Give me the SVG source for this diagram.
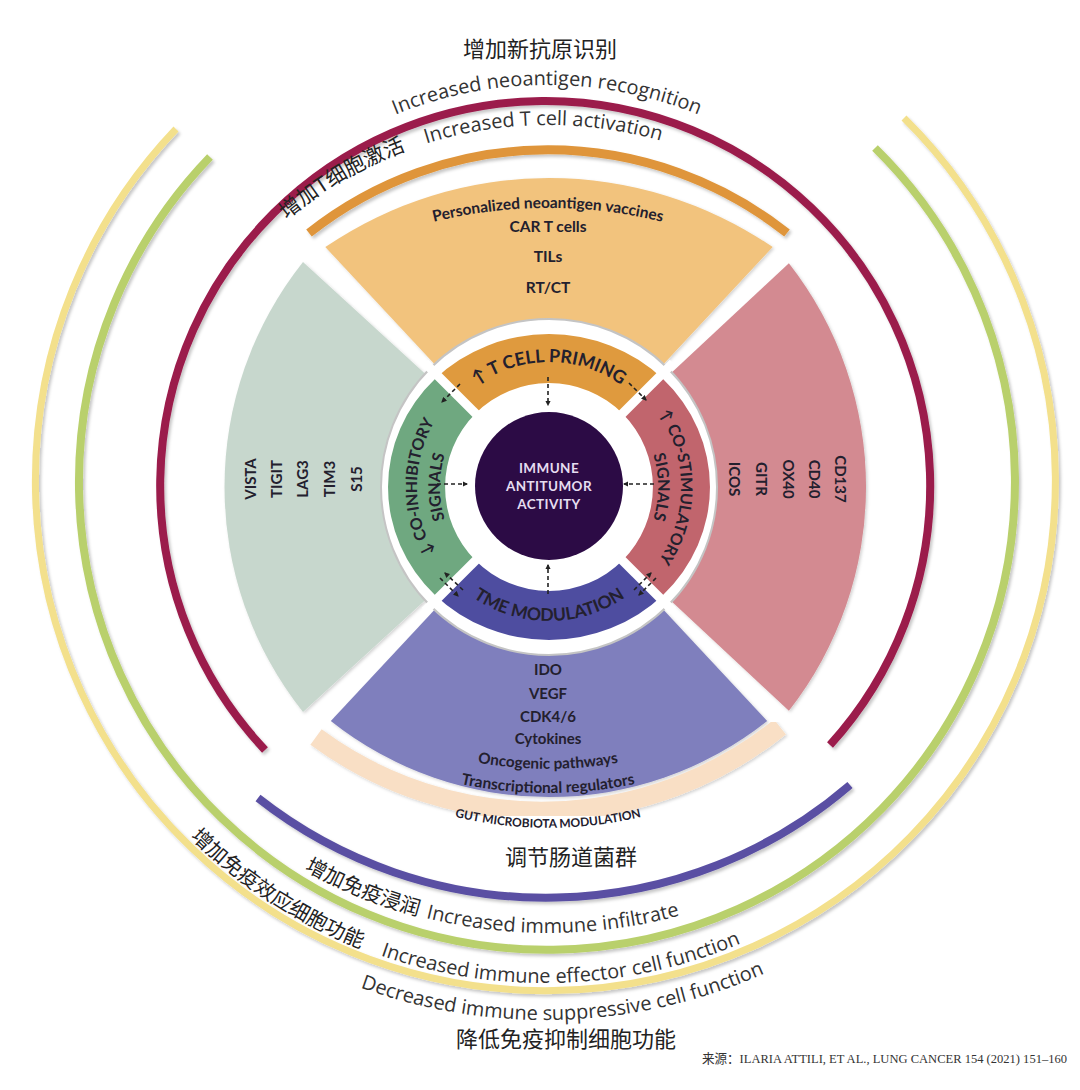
<svg xmlns="http://www.w3.org/2000/svg" width="1080" height="1090" viewBox="0 0 1080 1090">
<defs>
<style>
.lbl{font-family:Lato,"Open Sans","DejaVu Sans",sans-serif;font-weight:700;fill:#23202e}
.out{font-family:"Open Sans","DejaVu Sans",sans-serif;font-size:19.9px;fill:#333}
.cn{font-family:"Noto Sans CJK SC","Noto Sans",sans-serif;fill:#222;font-weight:400}
.arc{fill:none;stroke-linecap:butt}
.dash{fill:none;stroke:#222;stroke-width:1.6;stroke-dasharray:4 3}
.gap{stroke:#fff;stroke-width:9;stroke-linecap:butt}
</style>
<filter id="sh" x="-5%" y="-5%" width="110%" height="110%"><feDropShadow dx="2" dy="2.5" stdDeviation="1.5" flood-color="#000" flood-opacity="0.22"/></filter>
<filter id="sh2" x="-5%" y="-5%" width="110%" height="110%"><feDropShadow dx="1.5" dy="1.5" stdDeviation="1.5" flood-color="#000" flood-opacity="0.18"/></filter>
<marker id="ah" viewBox="0 0 10 10" refX="8" refY="5" markerWidth="5.5" markerHeight="5.5" orient="auto" markerUnits="userSpaceOnUse"><path d="M0,0 L10,5 L0,10 z" fill="#222"/></marker>
<path id="tp-neo" d="M144,488 A403,403 0 0 1 950,488"/>
<path id="tp-tcell" d="M140,533 A408,408 0 0 1 956,533"/>
<path id="tp-infil" d="M45,430 A503,503 0 0 0 1051,430"/>
<path id="tp-eff" d="M40,478 A505,505 0 0 0 1050,478"/>
<path id="tp-decr" d="M5,480 A540,540 0 0 0 1085,480"/>
<path id="tp-pers" d="M68,688 A480,480 0 0 1 1028,688"/>
<path id="tp-onco" d="M148,369 A400,400 0 0 0 948,369"/>
<path id="tp-trans" d="M124,369 A424,424 0 0 0 972,369"/>
<path id="tp-gut" d="M148,428 A400,400 0 0 0 948,428"/>
<path id="tp-tcp" d="M424,487 A125,125 0 0 1 674,487"/>
<path id="tp-tme" d="M415,487 A134,134 0 0 0 683,487"/>
<path id="tp-coi1" d="M549,619 A132,132 0 0 1 549,355"/>
<path id="tp-coi2" d="M549,596 A109,109 0 0 1 549,378"/>
<path id="tp-cos1" d="M549,355 A132,132 0 0 1 549,619"/>
<path id="tp-cos2" d="M549,378 A109,109 0 0 1 549,596"/>
</defs>
<rect width="1080" height="1090" fill="#fff"/>

<!-- outer arcs -->
<g id="outer-arcs" filter="url(#sh)">
<path class="arc" d="M904,118 A510,510 0 1 1 176,129" stroke="#f3e08c" stroke-width="7"/>
<path class="arc" d="M875,148 A468,468 0 1 1 210,157" stroke="#b9d06c" stroke-width="8"/>
<path class="arc" d="M265,750 A385,385 0 1 1 830,745" stroke="#9b1b4c" stroke-width="8"/>
<path class="arc" d="M309,233 A385,385 0 0 1 787,233" stroke="#df953a" stroke-width="9"/>
<path class="arc" d="M258,798 A466,466 0 0 0 850,785" stroke="#5a50a3" stroke-width="8"/>
</g>

<!-- big sectors -->
<g id="sector-top" filter="url(#sh2)"><path d="M549,487 L325.3,247.1 A397,397 0 0 1 772.7,247.1 Z" fill="#f2c37d"/></g>
<g id="sector-left" filter="url(#sh2)"><path d="M549,487 L303,712.1 A362,362 0 0 1 303,261.9 Z" fill="#c7d7cd"/></g>
<g id="sector-right" filter="url(#sh2)"><path d="M549,487 L788.9,263.3 A363,363 0 0 1 788.9,710.7 Z" fill="#d38a91"/></g>
<g id="sector-bottom" filter="url(#sh2)"><path d="M549,487 L767.2,721 A351,351 0 0 1 330.8,721 Z" fill="#7f7fbd"/></g>

<circle cx="549" cy="487" r="168" fill="#fff" stroke="#c4c4c4" stroke-width="2"/>

<!-- inner ring bands -->
<g id="band-tcell"><path d="M435.2,378.8 A161,153 0 0 1 662.8,378.8 L622.5,413.5 A104,104 0 0 0 475.5,413.5 Z" fill="#df9a3e"/></g>
<g id="band-costim"><path d="M662.8,378.8 A161,153 0 0 1 662.8,595.2 L622.5,560.5 A104,104 0 0 0 622.5,413.5 Z" fill="#c1656d"/></g>
<g id="band-tme"><path d="M662.8,595.2 A161,153 0 0 1 435.2,595.2 L475.5,560.5 A104,104 0 0 0 622.5,560.5 Z" fill="#4e4da0"/></g>
<g id="band-coinh"><path d="M435.2,595.2 A161,153 0 0 1 435.2,378.8 L475.5,413.5 A104,104 0 0 0 475.5,560.5 Z" fill="#6fa880"/></g>

<!-- gaps -->
<g id="gaps">
<line class="gap" x1="481.8" y1="419.8" x2="425" y2="363"/>
<line class="gap" x1="616.2" y1="419.8" x2="673" y2="363"/>
<line class="gap" x1="481.8" y1="554.2" x2="425" y2="611"/>
<line class="gap" x1="616.2" y1="554.2" x2="673" y2="611"/>
</g>

<!-- gut microbiota band -->
<g id="gut-band">
<path class="arc" d="M316,737 A380,380 0 0 0 780,727" stroke="#f9dfc5" stroke-width="19" filter="url(#sh2)"/>
<text class="lbl" font-size="12"><textPath href="#tp-gut" startOffset="50%" text-anchor="middle">GUT MICROBIOTA MODULATION</textPath></text>
</g>

<!-- center -->
<g id="center-node">
<circle cx="549" cy="486" r="74" fill="#2c0b45"/>
<text class="lbl" font-size="13.5" style="fill:#e6ddf0" text-anchor="middle" letter-spacing="0.4"><tspan x="549" y="473">IMMUNE</tspan><tspan x="549" y="491">ANTITUMOR</tspan><tspan x="549" y="509">ACTIVITY</tspan></text>
</g>

<!-- band labels -->
<text class="lbl" font-size="18"><textPath href="#tp-tcp" startOffset="50%" text-anchor="middle">↑ T CELL PRIMING</textPath></text>
<text class="lbl" font-size="17.5"><textPath href="#tp-tme" startOffset="50%" text-anchor="middle">TME MODULATION</textPath></text>
<text class="lbl" font-size="16"><textPath href="#tp-coi1" startOffset="50%" text-anchor="middle">↓ CO-INHIBITORY</textPath></text>
<text class="lbl" font-size="16"><textPath href="#tp-coi2" startOffset="50%" text-anchor="middle">SIGNALS</textPath></text>
<text class="lbl" font-size="16"><textPath href="#tp-cos1" startOffset="50%" text-anchor="middle">↑ CO-STIMULATORY</textPath></text>
<text class="lbl" font-size="16"><textPath href="#tp-cos2" startOffset="50%" text-anchor="middle">SIGNALS</textPath></text>

<!-- sector labels -->
<g id="top-items" class="lbl" text-anchor="middle">
<text font-size="15.5"><textPath href="#tp-pers" startOffset="50%" text-anchor="middle">Personalized neoantigen vaccines</textPath></text>
<text x="548" y="232" font-size="15.5">CAR T cells</text>
<text x="548" y="262" font-size="15.5">TILs</text>
<text x="548" y="293" font-size="15.5">RT/CT</text>
</g>
<g id="left-items" class="lbl" font-size="15" text-anchor="middle">
<text transform="translate(251,479) rotate(-90)" y="5">VISTA</text>
<text transform="translate(277,479) rotate(-90)" y="5">TIGIT</text>
<text transform="translate(303,479) rotate(-90)" y="5">LAG3</text>
<text transform="translate(330,479) rotate(-90)" y="5">TIM3</text>
<text transform="translate(357,479) rotate(-90)" y="5">S15</text>
</g>
<g id="right-items" class="lbl" font-size="15" text-anchor="middle">
<text transform="translate(840,479) rotate(90)" y="5">CD137</text>
<text transform="translate(814,479) rotate(90)" y="5">CD40</text>
<text transform="translate(788,479) rotate(90)" y="5">OX40</text>
<text transform="translate(761,479) rotate(90)" y="5">GITR</text>
<text transform="translate(734,479) rotate(90)" y="5">ICOS</text>
</g>
<g id="bottom-items" class="lbl" font-size="15" text-anchor="middle">
<text x="548" y="675">IDO</text>
<text x="548" y="699">VEGF</text>
<text x="548" y="722">CDK4/6</text>
<text x="548" y="744">Cytokines</text>
<text font-size="15.3"><textPath href="#tp-onco" startOffset="50%" text-anchor="middle">Oncogenic pathways</textPath></text>
<text font-size="15.5"><textPath href="#tp-trans" startOffset="50%" text-anchor="middle">Transcriptional regulators</textPath></text>
</g>

<!-- connectors -->
<g id="connectors">
<line class="dash" x1="548" y1="377" x2="548" y2="405" marker-end="url(#ah)"/>
<line class="dash" x1="437" y1="484" x2="467" y2="484" marker-end="url(#ah)"/>
<line class="dash" x1="654" y1="484" x2="624" y2="484" marker-end="url(#ah)"/>
<line class="dash" x1="548" y1="594" x2="548" y2="565" marker-end="url(#ah)"/>
<line class="dash" x1="460" y1="384" x2="442" y2="402" marker-end="url(#ah)"/>
<line class="dash" x1="629" y1="383" x2="646" y2="400" marker-end="url(#ah)"/>
<line class="dash" x1="463" y1="590" x2="445" y2="573" marker-end="url(#ah)"/>
<line class="dash" x1="440" y1="578" x2="458" y2="596" marker-end="url(#ah)"/>
<line class="dash" x1="634" y1="590" x2="651" y2="573" marker-end="url(#ah)"/>
<line class="dash" x1="656" y1="578" x2="639" y2="595" marker-end="url(#ah)"/>
</g>

<!-- outer labels -->
<text class="cn" x="540" y="57" font-size="22" text-anchor="middle">增加新抗原识别</text>
<text class="out"><textPath href="#tp-neo" startOffset="50%" text-anchor="middle">Increased neoantigen recognition</textPath></text>
<text class="cn" font-size="21"><textPath href="#tp-tcell" startOffset="357">增加T细胞激活</textPath></text>
<text class="out"><textPath href="#tp-tcell" startOffset="636" text-anchor="middle">Increased T cell activation</textPath></text>
<text class="cn" x="571" y="865" font-size="22" text-anchor="middle">调节肠道菌群</text>
<text class="cn" font-size="20.5"><textPath href="#tp-infil" startOffset="597" text-anchor="middle">增加免疫浸润</textPath></text>
<text class="out"><textPath href="#tp-infil" startOffset="795" text-anchor="middle">Increased immune infiltrate</textPath></text>
<text class="cn" font-size="20.5"><textPath href="#tp-eff" startOffset="502" text-anchor="middle">增加免疫效应细胞功能</textPath></text>
<text class="out"><textPath href="#tp-eff" startOffset="810" text-anchor="middle">Increased immune effector cell function</textPath></text>
<text class="out"><textPath href="#tp-decr" startOffset="867" text-anchor="middle">Decreased immune suppressive cell function</textPath></text>
<text class="cn" x="566" y="1047" font-size="22" text-anchor="middle">降低免疫抑制细胞功能</text>
<text x="702" y="1063" font-family="'Liberation Serif','Noto Sans CJK SC',serif" font-size="13" fill="#333" textLength="365" lengthAdjust="spacingAndGlyphs">来源：ILARIA ATTILI, ET AL., LUNG CANCER 154 (2021) 151–160</text>
</svg>
